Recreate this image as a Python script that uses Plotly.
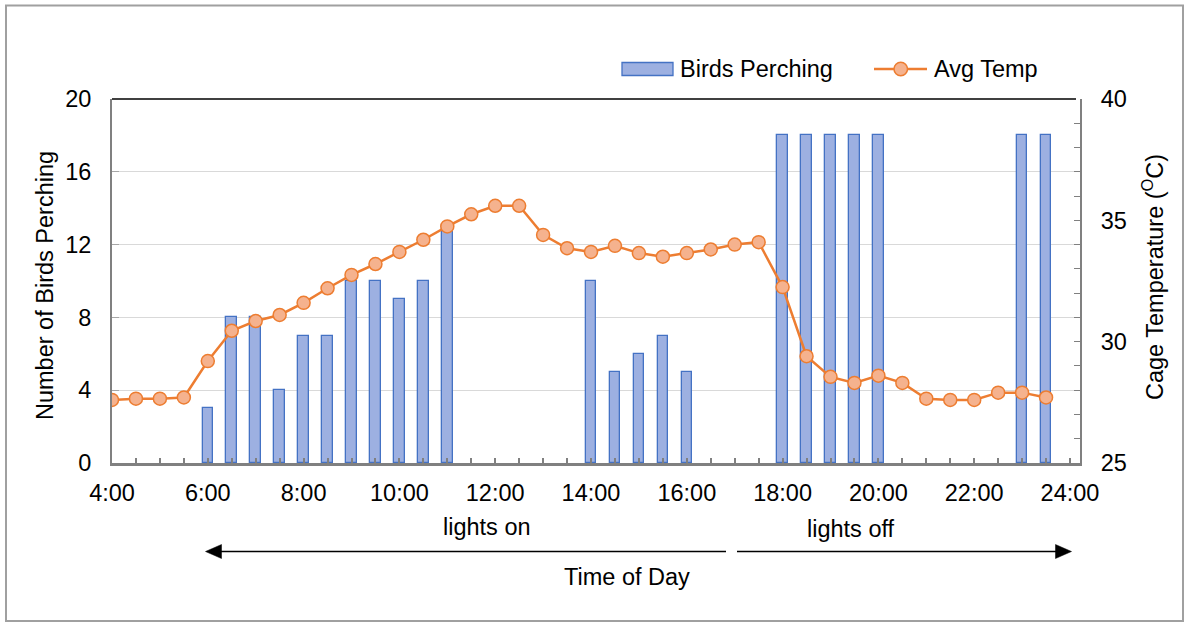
import plotly.graph_objects as go

# Half-hour time slots across the day
times = ["4:00", "4:30", "5:00", "5:30", "6:00", "6:30", "7:00", "7:30",
         "8:00", "8:30", "9:00", "9:30", "10:00", "10:30", "11:00", "11:30",
         "12:00", "12:30", "13:00", "13:30", "14:00", "14:30", "15:00", "15:30",
         "16:00", "16:30", "17:00", "17:30", "18:00", "18:30", "19:00", "19:30",
         "20:00", "20:30", "21:00", "21:30", "22:00", "22:30", "23:00", "23:30"]

# Number of birds perching in each slot (None = no birds)
birds = [None, None, None, None, 3, 8, 8, 4,
         7, 7, 10, 10, 9, 10, 13, None,
         None, None, None, None, 10, 5, 6, 7,
         5, None, None, None, 18, 18, 18, 18,
         18, None, None, None, None, None, 18, 18]

# Average cage temperature (°C)
avg_temp = [27.6, 27.65, 27.65, 27.7, 29.2, 30.45, 30.85, 31.1,
            31.6, 32.2, 32.75, 33.2, 33.7, 34.2, 34.75, 35.25,
            35.6, 35.6, 34.4, 33.85, 33.7, 33.95, 33.65, 33.5,
            33.65, 33.8, 34.0, 34.1, 32.25, 29.4, 28.55, 28.3,
            28.6, 28.3, 27.65, 27.6, 27.6, 27.9, 27.9, 27.7]

x_tick_labels = ["4:00", "6:00", "8:00", "10:00", "12:00", "14:00",
                 "16:00", "18:00", "20:00", "22:00", "24:00"]


def hours(label):
    h, m = label.split(":")
    return int(h) + int(m) / 60


x_hours = [hours(t) for t in times]
x_tick_vals = [hours(t) for t in x_tick_labels]

FONT = "Liberation Sans, Arial, sans-serif"
FS = 23.5
BAR_FILL = "#9DB0E1"
BAR_EDGE = "#4472C4"
ORANGE = "#ED7D31"
MARKER_FILL = "#F5B28E"
AXIS_GREY = "#808080"

W, H = 1187, 622
L, R, T, B = 112, 1080, 99, 463  # plot area in pixels


def px(x):
    return (x - L) / (R - L)


def py(y):
    return (B - y) / (B - T)


fig = go.Figure()

fig.add_trace(go.Bar(
    x=x_hours, y=birds, width=0.22,
    marker=dict(color=BAR_FILL, line=dict(color=BAR_EDGE, width=1.3)),
    name="Birds Perching", showlegend=False, yaxis="y",
))

fig.add_trace(go.Scatter(
    x=x_hours, y=avg_temp, mode="lines+markers",
    line=dict(color=ORANGE, width=2.5),
    marker=dict(size=13, color=MARKER_FILL, line=dict(color=ORANGE, width=1.5)),
    name="Avg Temp", showlegend=False, yaxis="y2",
))

tick_font = dict(family=FONT, size=FS, color="#000000")

fig.update_layout(
    width=W, height=H, autosize=False,
    margin=dict(l=L, r=W - R, t=T, b=H - B, pad=0),
    paper_bgcolor="white", plot_bgcolor="white",
    font=dict(family=FONT, size=FS, color="#000000"),
    bargap=0,
    xaxis=dict(
        range=[4, 4 + (R - L) / ((1070 - L) / 20)],
        tickmode="array", tickvals=x_tick_vals, ticktext=x_tick_labels,
        ticks="inside", ticklen=5, tickwidth=1.5, tickcolor=AXIS_GREY,
        minor=dict(dtick=0.5, tick0=4, ticks="inside", ticklen=5,
                   tickwidth=1.5, tickcolor=AXIS_GREY, showgrid=False),
        showline=True, linecolor=AXIS_GREY, linewidth=2.5,
        showgrid=False, zeroline=False, tickfont=tick_font,
        ticklabelstandoff=7,
    ),
    yaxis=dict(
        range=[0, 20], dtick=4, tick0=0,
        ticks="inside", ticklen=7, tickwidth=1, tickcolor="#A6A6A6",
        showline=True, linecolor=AXIS_GREY, linewidth=2,
        showgrid=True, gridcolor="#D9D9D9", gridwidth=1.2,
        zeroline=False, tickfont=tick_font, ticklabelstandoff=14,
    ),
    yaxis2=dict(
        range=[25, 40], dtick=5, tick0=25, overlaying="y", side="right",
        ticks="inside", ticklen=6, tickwidth=1.2, tickcolor=AXIS_GREY,
        minor=dict(dtick=1, ticks="inside", ticklen=6, tickwidth=1.2,
                   tickcolor=AXIS_GREY, showgrid=False),
        showline=True, linecolor=AXIS_GREY, linewidth=2,
        showgrid=False, zeroline=False, tickfont=tick_font,
        ticklabelstandoff=14,
    ),
)

shapes = []
# black frame line along the top of the plot area
shapes.append(dict(type="line", xref="paper", yref="paper",
                   x0=0, x1=px(1076), y0=1, y1=1,
                   line=dict(color="#000000", width=1.5)))
# outer chart border
shapes.append(dict(type="rect", xref="paper", yref="paper",
                   x0=px(6), x1=px(1183), y0=py(5.5), y1=py(621),
                   line=dict(color="#A0A0A0", width=2)))

# lights on / lights off arrows
AY = 551.5
shapes.append(dict(type="line", xref="paper", yref="paper",
                   x0=px(215), x1=px(726), y0=py(AY), y1=py(AY),
                   line=dict(color="#000000", width=1.5)))
shapes.append(dict(type="line", xref="paper", yref="paper",
                   x0=px(737), x1=px(1062), y0=py(AY), y1=py(AY),
                   line=dict(color="#000000", width=1.5)))


def tri(tip_x, base_x, y, half):
    return (f"M {px(tip_x)} {py(y)} L {px(base_x)} {py(y - half)} "
            f"L {px(base_x)} {py(y + half)} Z")


shapes.append(dict(type="path", xref="paper", yref="paper",
                   path=tri(205.5, 221.5, AY, 7),
                   fillcolor="#000000", line=dict(color="#000000", width=0.5)))
shapes.append(dict(type="path", xref="paper", yref="paper",
                   path=tri(1071.5, 1055.5, AY, 7),
                   fillcolor="#000000", line=dict(color="#000000", width=0.5)))

# legend glyphs
LY = 69
shapes.append(dict(type="rect", xref="paper", yref="paper",
                   x0=px(622), x1=px(673), y0=py(LY - 6.5), y1=py(LY + 6.5),
                   fillcolor=BAR_FILL, line=dict(color=BAR_EDGE, width=1.3)))
shapes.append(dict(type="line", xref="paper", yref="paper",
                   x0=px(874), x1=px(927), y0=py(LY), y1=py(LY),
                   line=dict(color=ORANGE, width=2.5)))
shapes.append(dict(type="circle", xref="paper", yref="paper",
                   x0=px(894), x1=px(907.5), y0=py(LY - 6.75), y1=py(LY + 6.75),
                   fillcolor=MARKER_FILL, line=dict(color=ORANGE, width=1.5)))

fig.update_layout(shapes=shapes)

txt = dict(xref="paper", yref="paper", showarrow=False,
           font=dict(family=FONT, size=FS, color="#000000"))
annotations = [
    dict(text="Number of Birds Perching", x=px(45), y=py(286), textangle=-90,
         xanchor="center", yanchor="middle", **txt),
    dict(text="Cage Temperature (<sup>O</sup>C)", x=px(1153), y=py(277),
         textangle=-90, xanchor="center", yanchor="middle", **txt),
    dict(text="lights on", x=px(487), y=py(527), xanchor="center",
         yanchor="middle", **txt),
    dict(text="lights off", x=px(851), y=py(529), xanchor="center",
         yanchor="middle", **txt),
    dict(text="Time of Day", x=px(627), y=py(577), xanchor="center",
         yanchor="middle", **txt),
    dict(text="Birds Perching", x=px(678), y=py(LY), xanchor="left",
         yanchor="middle", **txt),
    dict(text="Avg Temp", x=px(932), y=py(LY), xanchor="left",
         yanchor="middle", **txt),
]
fig.update_layout(annotations=annotations)

fig.write_html("out.html")
